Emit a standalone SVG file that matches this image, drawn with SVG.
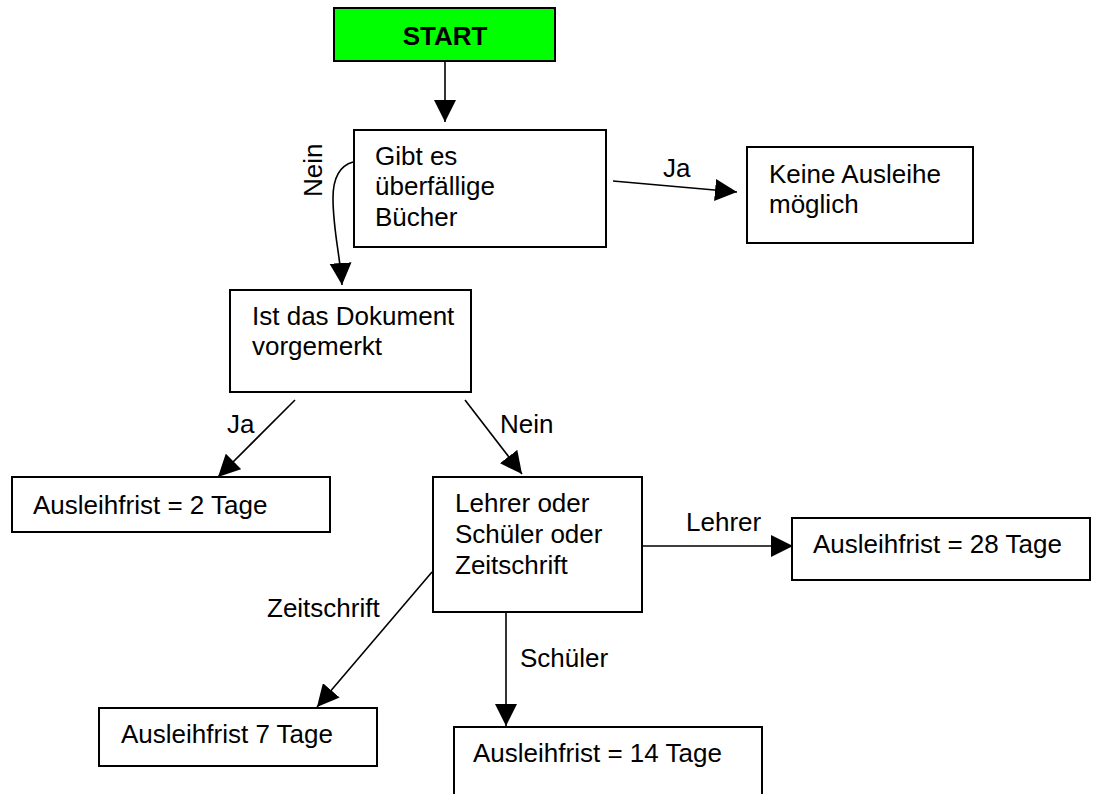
<svg xmlns="http://www.w3.org/2000/svg" width="1093" height="794" viewBox="0 0 1093 794">
<style>
.box{fill:#fff;stroke:#000;stroke-width:2}
.t{font-family:"Liberation Sans",Arial,sans-serif;font-size:26px;fill:#000}
.b{font-weight:bold}
.c{fill:none;stroke:#000;stroke-width:1.6}
</style>
<defs>
<marker id="ah" markerUnits="userSpaceOnUse" markerWidth="22" markerHeight="22" refX="20" refY="10" orient="auto" viewBox="0 0 20 20">
<path d="M0,0 L20,10 L0,20 z" fill="#000"/>
</marker>
</defs>
<rect width="1093" height="794" fill="#fff"/>
<g id="connectors">
<line class="c" x1="445" y1="61" x2="445" y2="122" marker-end="url(#ah)"/>
<path class="c" d="M353,162 C339,166 333,178 333,198 C333,230 340,255 342,285" marker-end="url(#ah)"/>
<line class="c" x1="613" y1="181" x2="737" y2="192" marker-end="url(#ah)"/>
<line class="c" x1="295" y1="400" x2="218" y2="477" marker-end="url(#ah)"/>
<line class="c" x1="465" y1="400" x2="522" y2="474" marker-end="url(#ah)"/>
<line class="c" x1="642" y1="546" x2="793" y2="546" marker-end="url(#ah)"/>
<line class="c" x1="506" y1="612" x2="506" y2="726" marker-end="url(#ah)"/>
<line class="c" x1="432" y1="572" x2="317" y2="707" marker-end="url(#ah)"/>
<text class="t" transform="translate(322,197) rotate(-90)">Nein</text>
<text class="t" x="663" y="177">Ja</text>
<text class="t" x="227" y="433">Ja</text>
<text class="t" x="500" y="433">Nein</text>
<text class="t" x="686" y="531">Lehrer</text>
<text class="t" x="520" y="667">Schüler</text>
<text class="t" x="267" y="617">Zeitschrift</text>
</g>
<g id="start">
<rect x="334" y="8" width="221" height="53" fill="#00ff00" stroke="#000" stroke-width="2"/>
<text class="t b" x="445" y="45" text-anchor="middle">START</text>
</g>
<g id="gibt">
<rect class="box" x="354" y="130" width="252" height="117"/>
<text class="t" x="375" y="165">Gibt es</text>
<text class="t" x="375" y="195">überfällige</text>
<text class="t" x="375" y="226">Bücher</text>
</g>
<g id="keine">
<rect class="box" x="747" y="147" width="226" height="96"/>
<text class="t" x="769" y="183">Keine Ausleihe</text>
<text class="t" x="769" y="213">möglich</text>
</g>
<g id="ist">
<rect class="box" x="230" y="290" width="241" height="102"/>
<text class="t" x="252" y="325">Ist das Dokument</text>
<text class="t" x="252" y="355">vorgemerkt</text>
</g>
<g id="frist2">
<rect class="box" x="12" y="477" width="318" height="55"/>
<text class="t" x="33" y="514">Ausleihfrist = 2 Tage</text>
</g>
<g id="lehrer">
<rect class="box" x="433" y="477" width="209" height="135"/>
<text class="t" x="455" y="512">Lehrer oder</text>
<text class="t" x="455" y="543">Schüler oder</text>
<text class="t" x="455" y="574">Zeitschrift</text>
</g>
<g id="frist28">
<rect class="box" x="792" y="518" width="298" height="62"/>
<text class="t" x="813" y="553">Ausleihfrist = 28 Tage</text>
</g>
<g id="frist7">
<rect class="box" x="99" y="708" width="278" height="58"/>
<text class="t" x="121" y="743">Ausleihfrist 7 Tage</text>
</g>
<g id="frist14">
<rect class="box" x="454" y="727" width="308" height="80"/>
<text class="t" x="473" y="762">Ausleihfrist = 14 Tage</text>
</g>
</svg>
